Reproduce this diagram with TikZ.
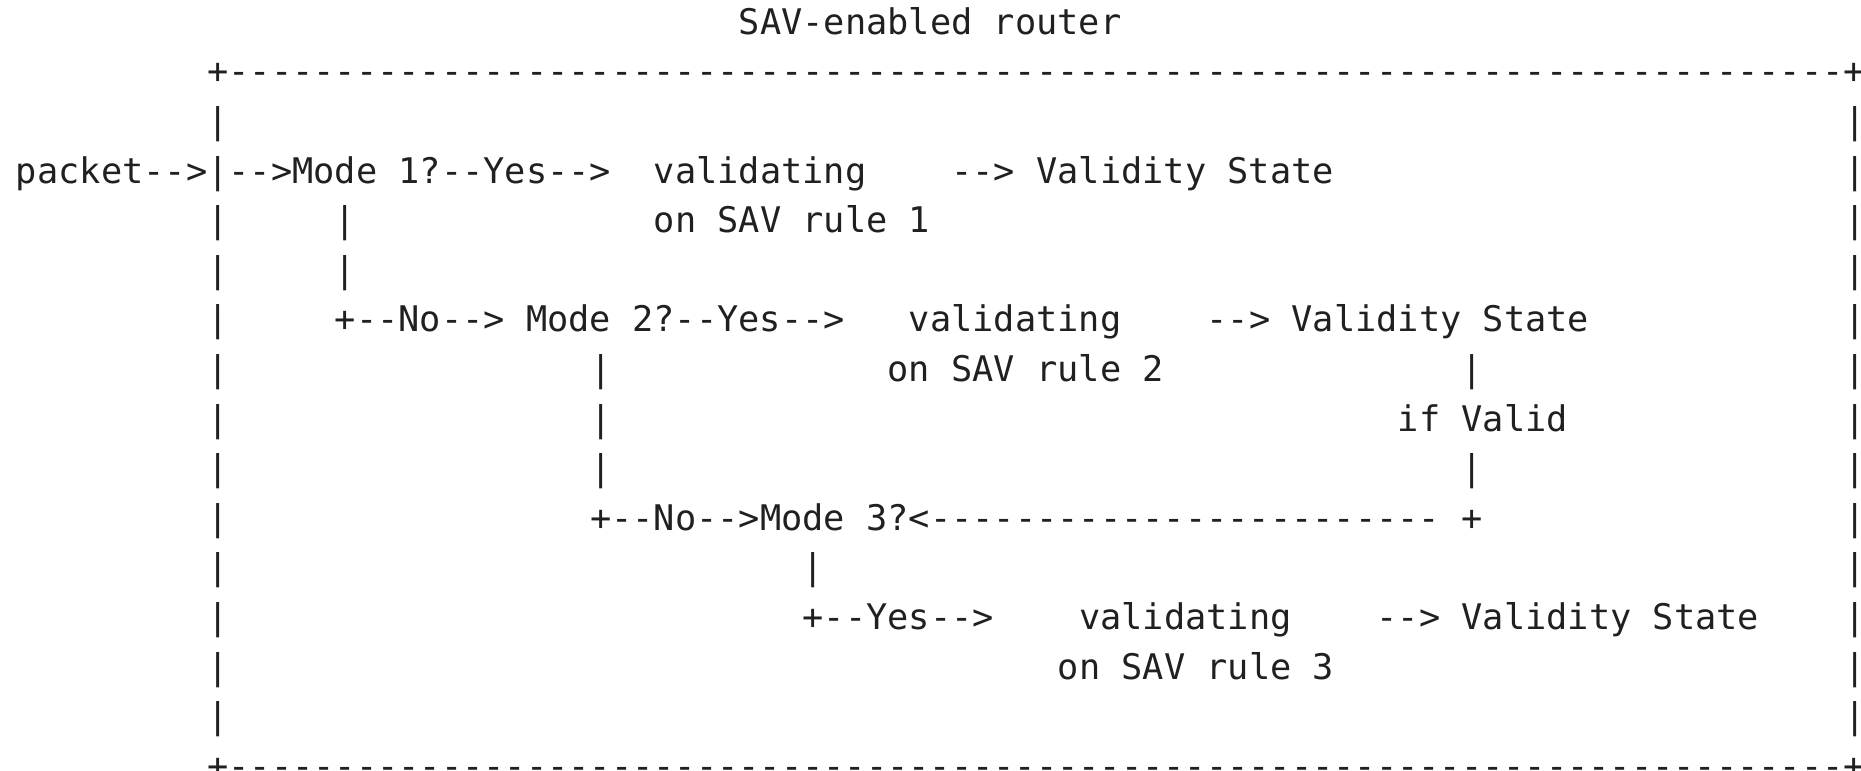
\documentclass[tikz,border=0pt]{standalone}
\usepackage{fontspec}
\setmonofont{DejaVu Sans Mono}
\definecolor{ink}{RGB}{32,32,32}
\ExplSyntaxOn
\cs_new:Npn \myrep #1#2 { \prg_replicate:nn {#1} {#2} }
\ExplSyntaxOff
\tikzset{
  asc/.style={anchor=base west, inner sep=0pt, outer sep=0pt, text=ink,
    font=\ttfamily\fontsize{35.3}{40}\selectfont},
}
% \T{name}{row}{col}{text}
\newcommand\T[4]{\node[asc] (#1) at ({16+#3*21.26},{183+(#2-3)*49.62}) {#4};}
\begin{document}
\begin{tikzpicture}[x=1pt,y=-1pt]
\useasboundingbox (0,0) rectangle (1861,771);
% title
\T{title}{0}{34}{SAV-enabled router}
% box
\T{top}{1}{9}{+\myrep{76}{-}+}
\T{bot}{15}{9}{+\myrep{76}{-}+}
\foreach \r in {2,...,14} {
  \ifnum\r=3\else \T{l\r}{\r}{9}{|}\fi
  \T{r\r}{\r}{86}{|}
}
% row 3
\T{in}{3}{0}{packet-->|-->Mode 1?--Yes-->}
\T{v1}{3}{30}{validating}
\T{s1}{3}{44}{--> Validity State}
\T{o1}{4}{30}{on SAV rule 1}
\T{a4}{4}{15}{|}
\T{a5}{5}{15}{|}
% mode 2
\T{m2}{6}{15}{+--No--> Mode 2?--Yes-->}
\T{v2}{6}{42}{validating}
\T{s2}{6}{56}{--> Validity State}
\T{o2}{7}{41}{on SAV rule 2}
\T{b7}{7}{27}{|}
\T{b8}{8}{27}{|}
\T{b9}{9}{27}{|}
\T{c7}{7}{68}{|}
\T{iv}{8}{65}{if Valid}
\T{c9}{9}{68}{|}
% mode 3
\T{m3}{10}{27}{+--No-->Mode 3?<\myrep{24}{-}}
\T{c10}{10}{68}{+}
\T{d11}{11}{37}{|}
\T{y3}{12}{37}{+--Yes-->}
\T{v3}{12}{50}{validating}
\T{s3}{12}{64}{--> Validity State}
\T{o3}{13}{49}{on SAV rule 3}
\end{tikzpicture}
\end{document}
